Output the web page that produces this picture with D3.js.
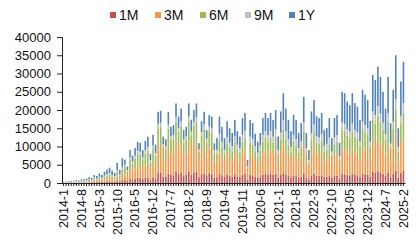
<!DOCTYPE html>
<html>
<head>
<meta charset="utf-8">
<script src="https://cdn.jsdelivr.net/npm/d3@7"></script>
<style>
  body { margin: 0; background: #fff; }
  svg { display: block; font-family: "Liberation Sans", Arial, sans-serif; }
</style>
</head>
<body>
<div id="chart"></div>
<script>
// 系列名稱與顏色
const seriesNames = ["1M", "3M", "6M", "9M", "1Y"];
const seriesColors = ["#C0504D", "#F79646", "#9BBB59", "#BFBFBF", "#4F81BD"];

// x 軸標籤（每 7 個月一個）
const tickLabels = ["2014-1", "2014-8", "2015-3", "2015-10", "2016-5", "2016-12", "2017-7",
  "2018-2", "2018-9", "2019-4", "2019-11", "2020-6", "2021-1", "2021-8", "2022-3",
  "2022-10", "2023-05", "2023-12", "2024-7", "2025-2"];

const yTicks = [0, 5000, 10000, 15000, 20000, 25000, 30000, 35000, 40000];

// 各期限數值（2014-1 ~ 2025-2，每月一筆）
const m1 = [40,50,60,70,60,90,80,120,110,140,180,160,
  250,220,300,250,350,420,480,390,320,630,410,780,
  770,540,1080,900,1150,1360,1320,1080,1380,1520,960,1580,1260,
  2700,2900,1700,1800,2600,2200,2100,3200,2400,2900,1900,2300,3100,2300,2900,3000,1600,2400,2600,2100,2700,2400,1500,
  1600,2400,1900,1700,2200,2000,1700,2300,1800,1700,2300,2600,800,2200,2100,1800,1500,1800,2300,2500,2200,2600,2200,2600,
  1400,2200,2700,2200,1900,1600,2100,1900,1500,1800,2600,1500,1000,2100,2500,2000,2000,2100,1600,1700,1900,1400,2000,2000,
  1100,2600,2400,2300,2100,2500,2200,2100,1700,2600,2400,2300,1700,3000,2800,3200,2900,2500,2000,2900,1600,2600,3400,1500,2800,3300];

const m3 = [60,80,100,120,100,160,140,200,210,250,330,290,
  460,400,540,460,650,780,880,710,590,1150,750,1420,
  1920,1350,2700,2250,2880,3390,3300,2700,3450,3810,2400,3960,3150,
  7400,7500,4900,4500,7500,5800,6100,8200,7000,7700,5600,5800,8300,6500,7700,8200,4200,6400,7400,5500,7100,6900,4100,
  4100,6000,5100,4000,5600,4900,4500,5700,4700,4200,5900,6300,2100,5700,5400,4500,3700,4500,5900,6300,5900,6300,5700,6600,
  4100,6300,7800,6500,5500,4500,6000,5500,4400,5200,7600,4400,2900,6300,7300,5900,5700,6100,4600,4800,5700,3900,5700,6000,
  3100,7000,6900,6200,6000,6900,6100,5900,4800,7100,6800,6400,4800,8300,7900,8900,8100,7000,5700,8100,4600,7100,9800,4200,7800,9300];

const m6 = [60,90,110,130,110,170,150,220,230,260,350,310,
  500,420,580,500,700,830,950,760,630,1240,810,1530,
  1790,1260,2520,2100,2690,3160,3080,2520,3220,3560,2240,3700,2940,
  4900,4900,3200,3000,4800,3900,3900,5400,4600,5100,3600,3800,5500,4300,5000,5500,2700,4200,4900,3600,4600,4600,2700,
  2200,3300,2800,2200,3000,2700,2500,3100,2600,2300,3200,3500,1100,3100,3000,2400,2000,2500,3200,3500,3200,3500,3100,3600,
  2200,3300,4200,3500,2900,2400,3200,2900,2300,2800,4000,2300,1500,3300,3900,3100,3000,3300,2500,2600,3000,2100,3000,3200,
  2200,5000,4900,4500,4300,4900,4400,4200,3500,5100,4800,4600,3400,5900,5600,6400,5800,5000,4100,5800,3300,5100,7000,3000,5600,6600];

const m9 = [30,40,50,60,50,80,70,100,90,110,150,130,
  200,180,240,200,280,330,380,300,250,490,320,610,
  510,360,720,600,770,900,880,720,920,1020,640,1060,840,
  1200,1200,800,700,1200,900,1000,1300,1100,1200,900,900,1300,1000,1200,1300,700,1000,1200,900,1100,1100,700,
  1200,1800,1500,1200,1700,1500,1400,1700,1400,1300,1800,1900,600,1700,1600,1400,1100,1400,1800,1900,1800,1900,1700,2000,
  1300,2000,2500,2000,1700,1400,1900,1700,1400,1600,2400,1400,900,2000,2300,1800,1800,1900,1500,1500,1800,1200,1800,1900,
  900,2000,2000,1800,1700,2000,1800,1700,1400,2000,1900,1800,1400,2400,2300,2600,2300,2000,1600,2300,1300,2000,2800,1200,2200,2700];

const y1 = [110,140,180,220,180,300,260,360,360,440,590,510,
  790,680,940,790,1120,1340,1510,1240,1010,1990,1310,2460,
  1410,990,1980,1650,2110,2490,2420,1980,2530,2790,1760,2900,2310,
  3300,3300,2100,2000,3400,2600,2700,3700,3100,3500,2500,2600,3600,3200,3200,3800,1700,2900,3400,2400,3100,3200,1900,
  3200,4700,4100,3200,4400,3900,3600,4500,3700,3200,4600,4900,1700,4600,4300,3400,3000,3500,4600,5000,4700,4900,4600,5200,
  3700,5800,7400,6200,5300,4300,5500,5300,4100,5000,7000,4100,2700,5900,6700,5500,5300,5800,4300,4400,5400,3700,5300,5500,
  3700,8400,8400,7500,7200,8300,7400,7000,5900,8700,8300,7700,5700,10000,9600,10800,10000,8500,7000,10000,5600,8700,12000,5100,9400,11300];

// 月份類別
const months = [];
for (let yy = 2014; yy <= 2025; yy++) {
  for (let mm = 1; mm <= 12; mm++) {
    if (months.length < m1.length) months.push(yy + "-" + mm);
  }
}

const seriesValues = [m1, m3, m6, m9, y1];
const rows = months.map((mo, i) => {
  const r = { month: mo, idx: i };
  seriesNames.forEach((s, k) => { r[s] = seriesValues[k][i]; });
  return r;
});

const W = 419, H = 240;
const plotLeft = 62, plotRight = 405, plotTop = 37, plotBottom = 183;

const svg = d3.select("#chart").append("svg").attr("width", W).attr("height", H);

const x = d3.scaleBand().domain(months).range([plotLeft, plotRight]).paddingInner(0.38).paddingOuter(0.3);
const y = d3.scaleLinear().domain([0, 40000]).range([plotBottom, plotTop]);

const stacked = d3.stack().keys(seriesNames)(rows);

svg.append("g").selectAll("g")
  .data(stacked)
  .join("g")
  .attr("fill", (d, i) => seriesColors[i])
  .selectAll("rect")
  .data(d => d)
  .join("rect")
  .attr("x", d => x(d.data.month))
  .attr("width", x.bandwidth())
  .attr("y", d => y(d[1]))
  .attr("height", d => y(d[0]) - y(d[1]));

// y 軸
const yAxis = d3.axisLeft(y).tickValues(yTicks).tickFormat(d => String(d)).tickSize(5).tickSizeOuter(5);
const yg = svg.append("g").attr("transform", `translate(${plotLeft},0)`).call(yAxis);
yg.select(".domain").attr("stroke", "#222");
yg.selectAll(".tick line").attr("stroke", "#222");
yg.selectAll("text").attr("font-size", 13).attr("fill", "#111").attr("x", -11);

// x 軸
const labelMap = new Map();
tickLabels.forEach((t, j) => labelMap.set(months[j * 7], t));
const xAxis = d3.axisBottom(x).tickSize(3).tickSizeOuter(0).tickFormat(d => labelMap.get(d) || "");
const xg = svg.append("g").attr("transform", `translate(0,${plotBottom})`).call(xAxis);
xg.select(".domain").attr("stroke", "#222").attr("stroke-width", 1.2);
xg.selectAll(".tick line").attr("stroke", "#222");
xg.selectAll("text")
  .attr("font-size", 12.5)
  .attr("fill", "#111")
  .attr("text-anchor", "end")
  .attr("transform", "rotate(-90)")
  .attr("x", -6)
  .attr("y", 0)
  .attr("dy", "0.35em");

// 圖例
const legendX = [110, 155, 200, 245, 289];
const legend = svg.append("g");
seriesNames.forEach((s, i) => {
  legend.append("rect").attr("x", legendX[i]).attr("y", 12).attr("width", 6).attr("height", 6).attr("fill", seriesColors[i]);
  legend.append("text").attr("x", legendX[i] + 9).attr("y", 20).attr("font-size", 14).attr("fill", "#111").text(s);
});
</script>
</body>
</html>
